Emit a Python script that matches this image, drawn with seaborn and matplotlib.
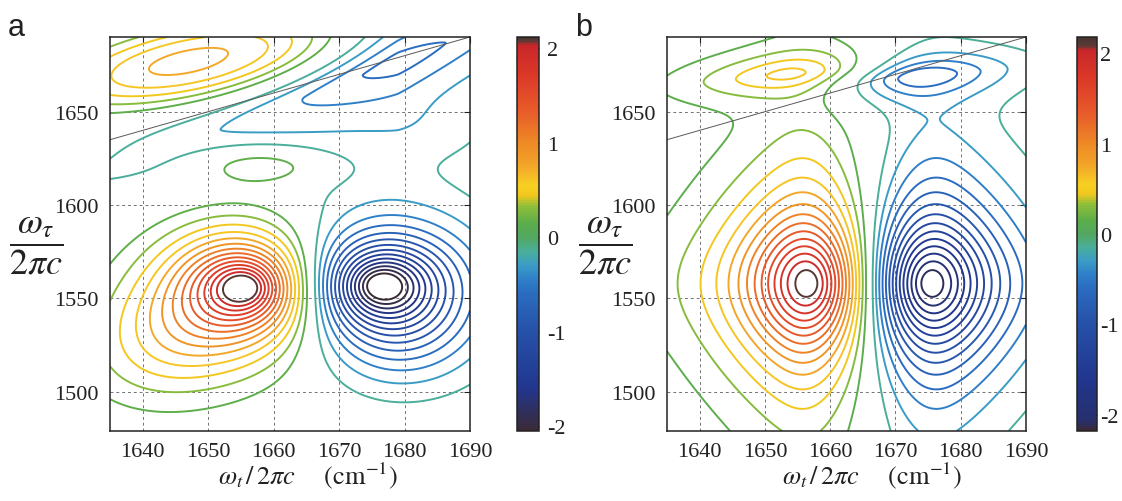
import numpy as np
import matplotlib
matplotlib.use("Agg")
import matplotlib.pyplot as plt
import seaborn as sns
from matplotlib.colors import LinearSegmentedColormap, Normalize
from matplotlib.cm import ScalarMappable

# ---- axes ----
x_range = (1635, 1690)
y_range = (1479, 1690)
x_ticks = [1640, 1650, 1660, 1670, 1680, 1690]
y_ticks = [1500, 1550, 1600, 1650]
cbar_ticks = [-2, -1, 0, 1, 2]
cbar_labels = ["-2", "-1", "0", "1", "2"]

# contour levels (signal amplitude)
pos_levels = [0.15, 0.30, 0.45, 0.60, 0.75, 0.90, 1.05, 1.20, 1.35, 1.50, 1.65, 1.80, 1.95, 2.10]

# ---- panel a: peak parameters ----
# centre, widths, tilt (dy/dx), amplitude, contour shape exponent,
# radial profile exponent, lorentzian share
a_x0 = [1655.5, 1676.5, 1645.0, 1680.0, 1649.0, 1679.0, 1658.0, 1684.0]
a_y0 = [1556.0, 1557.0, 1530.0, 1530.0, 1677.0, 1677.0, 1621.0, 1640.0]
a_sx = [9.5, 10.0, 13.0, 11.0, 22.0, 33.0, 9.5, 10.0]
a_sy = [25.0, 25.0, 33.0, 30.0, 21.0, 31.0, 10.0, 15.0]
a_tilt = [0.0, 0.0, 0.5, 0.0, 0.6, 1.35, 0.0, 0.0]
a_amp = [2.55, -2.55, 0.50, -0.30, 0.88, -0.74, 0.40, -0.08]
a_shape = [2.0, 2.0, 2.0, 2.0, 2.0, 1.3, 2.0, 2.0]
a_prof = [1.3, 1.3, 2.0, 2.0, 2.5, 1.1, 2.0, 2.0]
a_eta = [0.0, 0.0, 0.0, 0.0, 0.0, 0.0, 0.0, 0.0]
a_cbar = (-2.05, 2.12)

# ---- panel b ----
b_x0 = [1657.0, 1675.0, 1654.0, 1673.0]
b_y0 = [1558.0, 1558.0, 1670.0, 1669.0]
b_sx = [10.0, 10.0, 15.0, 14.0]
b_sy = [40.0, 40.0, 12.0, 12.0]
b_tilt = [0.0, 0.0, 0.3, 0.3]
b_amp = [2.75, -2.75, 0.62, -0.70]
b_shape = [2.0, 2.0, 1.8, 1.8]
b_prof = [1.3, 1.3, 1.5, 1.5]
b_eta = [0.6, 0.6, 0.0, 0.0]
b_cbar = (-2.18, 2.18)

# colour stops (value, colour)
stops_v = [-2.20, -2.08, -1.60, -1.00, -0.60, -0.45, -0.30, -0.15, 0.00, 0.15, 0.33,
           0.45, 0.55, 0.75, 1.00, 1.30, 1.70, 2.04, 2.09, 2.20]
stops_c = ["#3a2a35", "#272f6c", "#22368f", "#2651a8", "#2a6cc0", "#2f7fc8", "#3a9cc6",
           "#4aae9a", "#52a860", "#5cad4a", "#8fbf3a", "#f2c81e", "#f7d022", "#f3a72a",
           "#ee8a25", "#e8602a", "#dd3a28", "#c9262a", "#5a3a35", "#4a3530"]


def make_cmap(lo, hi):
    v = np.clip((np.array(stops_v) - lo) / (hi - lo), 0, 1)
    pairs = []
    last = -1
    for p, c in zip(v, stops_c):
        if p > last:
            pairs.append((p, c))
            last = p
    if pairs[0][0] > 0:
        pairs.insert(0, (0.0, pairs[0][1]))
    if pairs[-1][0] < 1:
        pairs.append((1.0, pairs[-1][1]))
    return LinearSegmentedColormap.from_list("spec", pairs)


def spectrum(X, Y, x0, y0, sx, sy, tilt, amp, shape, prof, eta):
    Z = np.zeros_like(X)
    for cx, cy, wx, wy, k, A, s, m, e in zip(x0, y0, sx, sy, tilt, amp, shape, prof, eta):
        u = np.abs((X - cx) / wx)
        v = np.abs((Y - cy - k * (X - cx)) / wy)
        r = (u ** s + v ** s) ** (1.0 / s)
        core = np.exp(-r ** m)
        lor = 1.0 / ((1 + u ** 2) * (1 + v ** 2))
        Z += A * ((1 - e) * core + e * lor)
    return Z


sns.set_theme(style="white")
plt.rcParams["font.family"] = ["Liberation Serif", "DejaVu Serif"]
plt.rcParams["mathtext.fontset"] = "stix"

W, H = 1122, 502
fig = plt.figure(figsize=(W / 100, H / 100), dpi=100)


def px(x0, y0, x1, y1):
    return [x0 / W, 1 - y1 / H, (x1 - x0) / W, (y1 - y0) / H]


xs = np.linspace(x_range[0], x_range[1], 276)
ys = np.linspace(y_range[0], y_range[1], 530)
X, Y = np.meshgrid(xs, ys)
levels = sorted([-l for l in pos_levels] + pos_levels)

panels = [
    dict(ax=px(110, 38, 470, 432), cax=px(517, 38, 539, 432), pad=6,
         params=(a_x0, a_y0, a_sx, a_sy, a_tilt, a_amp, a_shape, a_prof, a_eta),
         cb=a_cbar, letter="a", lx=8, ylx=36, xlx=218),
    dict(ax=px(667, 38, 1026, 432), cax=px(1077, 38, 1097, 432), pad=2,
         params=(b_x0, b_y0, b_sx, b_sy, b_tilt, b_amp, b_shape, b_prof, b_eta),
         cb=b_cbar, letter="b", lx=575, ylx=605, xlx=782),
]

for p in panels:
    ax = fig.add_axes(p["ax"])
    Z = spectrum(X, Y, *p["params"])
    lo, hi = p["cb"]
    cmap = make_cmap(lo, hi)
    norm = Normalize(lo, hi)
    ax.set_axisbelow(True)
    ax.grid(True, ls=(0, (3, 3)), color="0.45", lw=0.7)
    ax.contour(X, Y, Z, levels=levels, cmap=cmap, norm=norm, linewidths=1.4)
    d = np.array(x_range, dtype=float)
    ax.plot(d, d, color="0.35", lw=0.7)
    ax.set_xlim(*x_range)
    ax.set_ylim(*y_range)
    ax.set_xticks(x_ticks)
    ax.set_yticks(y_ticks)
    ax.tick_params(direction="in", top=True, right=True, length=4, width=0.8,
                   labelsize=16, pad=8, colors="#222222")
    for s in ax.spines.values():
        s.set_color("#222222")
        s.set_linewidth(1.1)

    cax = fig.add_axes(p["cax"])
    cb = fig.colorbar(ScalarMappable(norm=norm, cmap=cmap), cax=cax)
    cb.set_ticks(cbar_ticks)
    cb.set_ticklabels(cbar_labels)
    cb.outline.set_linewidth(1.1)
    cb.outline.set_edgecolor("#222222")
    cax.tick_params(direction="in", left=True, right=True, length=4, width=0.8,
                    labelsize=16, pad=p["pad"], colors="#222222")

    fig.text(p["lx"] / W, 1 - 36 / H, p["letter"], family="Liberation Sans",
             fontsize=22, color="#222222")
    fig.text(p["ylx"] / W, 1 - 246 / H, r"$\dfrac{\omega_\tau}{2\pi c}$",
             fontsize=26, ha="center", va="center", color="#222222")
    fig.text(p["xlx"] / W, 1 - 484 / H,
             r"$\omega_t\,/\,2\pi c\quad\;\;(\mathrm{cm}^{-1})$",
             fontsize=19, ha="left", va="baseline", color="#222222")

fig.savefig("out.png", dpi=100)
